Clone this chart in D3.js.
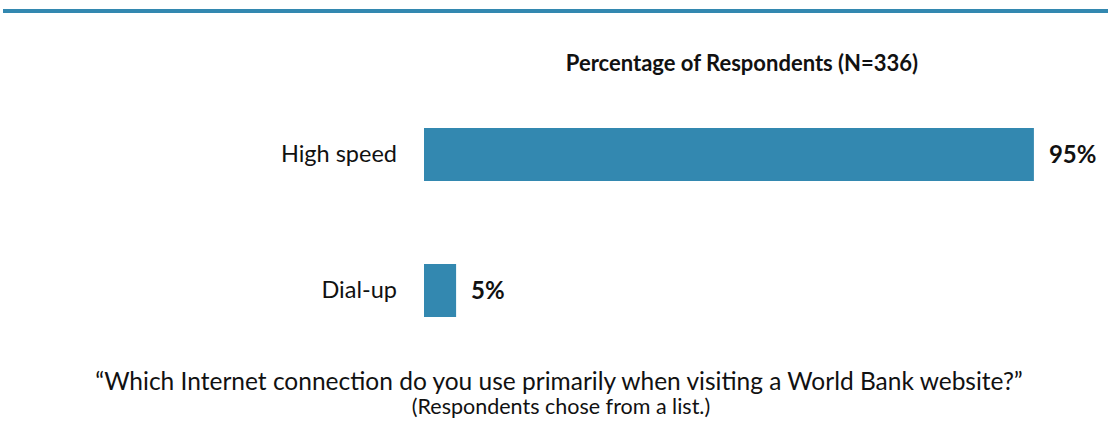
<!DOCTYPE html>
<html><head><meta charset="utf-8">
<script src="https://cdn.jsdelivr.net/npm/d3@7"></script>
<style>body{margin:0;background:#fff}svg{display:block}text{font-family:Lato,"Open Sans",sans-serif;fill:#111}</style>
</head><body>
<script>
const categories = ["High speed", "Dial-up"];
const values = [95, 5];
const valueLabels = ["95%", "5%"];
const title = "Percentage of Respondents (N=336)";
const caption1 = "\u201CWhich Internet connection do you use primarily when visiting a World Bank website?\u201D";
const caption2 = "(Respondents chose from a list.)";

const W = 1108, H = 425, color = "#3388b0";
const svg = d3.select("body").append("svg").attr("width", W).attr("height", H);

svg.append("rect").attr("x", 3).attr("y", 9).attr("width", W - 3).attr("height", 4).attr("fill", color);

const x = d3.scaleLinear().domain([0, 100]).range([424, 1066]);
const y = d3.scaleBand().domain(categories).range([128, 317]).paddingInner(0.6103).paddingOuter(0);

svg.append("text").attr("x", 742).attr("y", 71).attr("text-anchor", "middle")
  .attr("font-size", 22).attr("font-weight", "bold").text(title);

svg.selectAll("rect.bar").data(categories).join("rect").attr("class", "bar")
  .attr("x", x(0)).attr("y", d => y(d)).attr("height", y.bandwidth())
  .attr("width", (d, i) => x(values[i]) - x(0)).attr("fill", color);

const yAxis = d3.axisLeft(y).tickSize(0).tickPadding(27);
const g = svg.append("g").attr("transform", `translate(${x(0)},0)`).call(yAxis);
g.select(".domain").remove();
g.selectAll("text").attr("font-size", 23.5).attr("font-family", "Lato, sans-serif").attr("fill", "#111");

svg.selectAll("text.val").data(categories).join("text").attr("class", "val")
  .attr("x", (d, i) => x(values[i]) + 15).attr("y", d => y(d) + y.bandwidth() / 2)
  .attr("dy", "0.35em").attr("font-size", 24).attr("font-weight", "bold")
  .text((d, i) => valueLabels[i]);

svg.append("text").attr("x", 559).attr("y", 390).attr("text-anchor", "middle").attr("font-size", 24.5).text(caption1);
svg.append("text").attr("x", 561).attr("y", 414).attr("text-anchor", "middle").attr("font-size", 21.5).text(caption2);
</script>
</body></html>
